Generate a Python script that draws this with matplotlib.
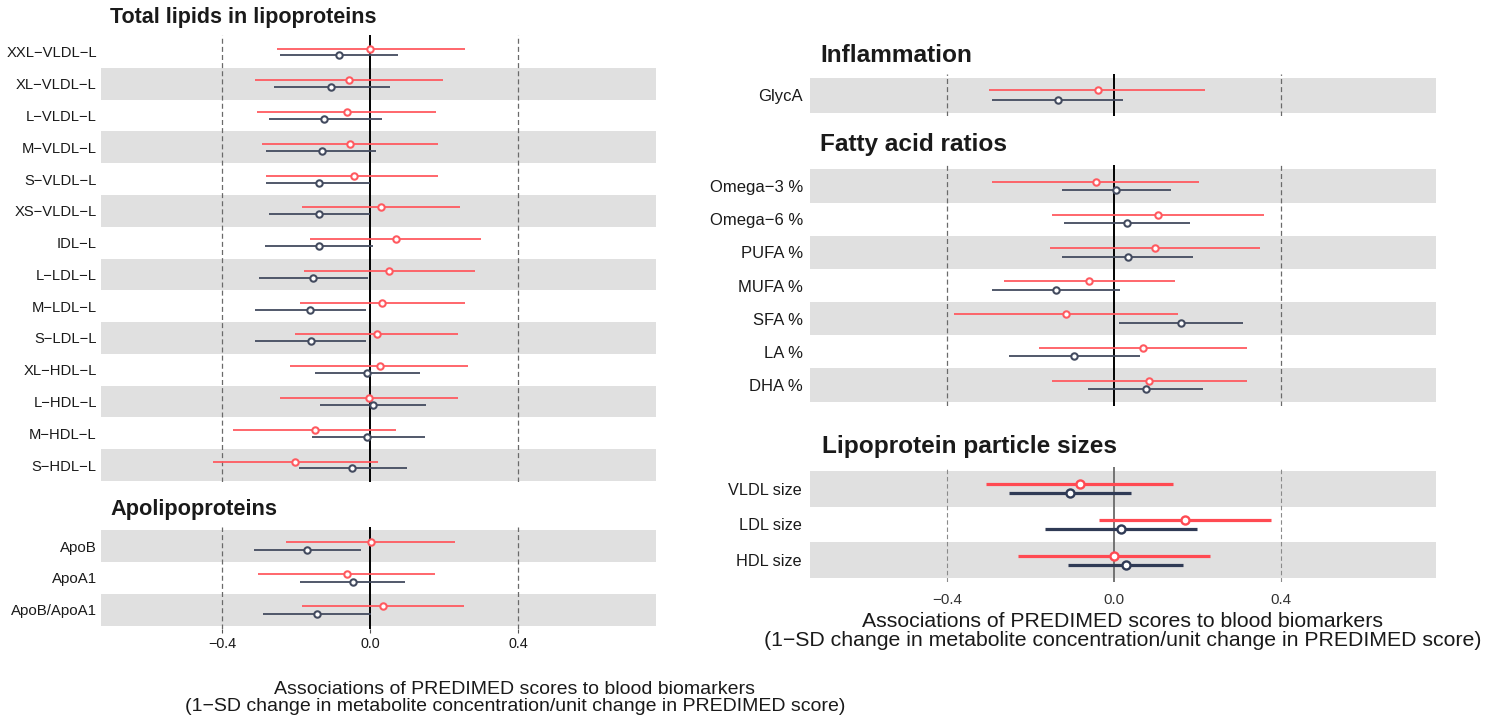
import matplotlib
matplotlib.use('Agg')
import matplotlib.pyplot as plt

plt.rcParams['font.family'] = ['Liberation Sans', 'DejaVu Sans']

# ---- data: estimate, lower CI, upper CI (red = score A, navy = score B) ----
lip_labels = ['XXL−VLDL−L', 'XL−VLDL−L', 'L−VLDL−L', 'M−VLDL−L', 'S−VLDL−L', 'XS−VLDL−L', 'IDL−L',
              'L−LDL−L', 'M−LDL−L', 'S−LDL−L', 'XL−HDL−L', 'L−HDL−L', 'M−HDL−L', 'S−HDL−L']
lip_red_est = [0.000, -0.058, -0.064, -0.056, -0.045, 0.030, 0.069, 0.050, 0.032, 0.018, 0.025, -0.003, -0.150, -0.203]
lip_red_lo = [-0.253, -0.312, -0.307, -0.293, -0.281, -0.185, -0.163, -0.180, -0.190, -0.203, -0.217, -0.244, -0.370, -0.425]
lip_red_hi = [0.256, 0.195, 0.178, 0.184, 0.184, 0.242, 0.300, 0.283, 0.256, 0.236, 0.264, 0.236, 0.069, 0.020]
lip_blue_est = [-0.086, -0.106, -0.124, -0.132, -0.140, -0.138, -0.138, -0.156, -0.164, -0.161, -0.008, 0.008, -0.008, -0.050]
lip_blue_lo = [-0.244, -0.261, -0.275, -0.281, -0.281, -0.275, -0.284, -0.302, -0.311, -0.311, -0.150, -0.136, -0.159, -0.194]
lip_blue_hi = [0.074, 0.053, 0.031, 0.016, 0.000, 0.000, 0.007, -0.007, -0.011, -0.011, 0.133, 0.151, 0.147, 0.098]

apo_labels = ['ApoB', 'ApoA1', 'ApoB/ApoA1']
apo_red_est = [0.003, -0.064, 0.034]
apo_red_lo = [-0.227, -0.303, -0.186]
apo_red_hi = [0.228, 0.174, 0.252]
apo_blue_est = [-0.171, -0.048, -0.143]
apo_blue_lo = [-0.315, -0.191, -0.289]
apo_blue_hi = [-0.025, 0.093, 0.003]

inf_labels = ['GlycA']
inf_red_est = [-0.039]
inf_red_lo = [-0.299]
inf_red_hi = [0.218]
inf_blue_est = [-0.134]
inf_blue_lo = [-0.293]
inf_blue_hi = [0.022]

fa_labels = ['Omega−3 %', 'Omega−6 %', 'PUFA %', 'MUFA %', 'SFA %', 'LA %', 'DHA %']
fa_red_est = [-0.043, 0.105, 0.099, -0.060, -0.114, 0.071, 0.084]
fa_red_lo = [-0.293, -0.147, -0.152, -0.262, -0.384, -0.179, -0.147]
fa_red_hi = [0.205, 0.359, 0.350, 0.146, 0.154, 0.319, 0.319]
fa_blue_est = [0.006, 0.032, 0.034, -0.138, 0.161, -0.095, 0.077]
fa_blue_lo = [-0.124, -0.120, -0.124, -0.293, 0.012, -0.252, -0.061]
fa_blue_hi = [0.136, 0.182, 0.190, 0.014, 0.310, 0.063, 0.214]

size_labels = ['VLDL size', 'LDL size', 'HDL size']
size_red_est = [-0.081, 0.170, 0.000]
size_red_lo = [-0.307, -0.036, -0.229]
size_red_hi = [0.143, 0.376, 0.230]
size_blue_est = [-0.105, 0.017, 0.029]
size_blue_lo = [-0.251, -0.164, -0.109]
size_blue_hi = [0.042, 0.199, 0.165]

xticks = [-0.4, 0.0, 0.4]
xlim = (-0.728, 0.772)
xlabel = 'Associations of PREDIMED scores to blood biomarkers\n(1−SD change in metabolite concentration/unit change in PREDIMED score)'

RED = '#ff5a60'
NAVY = '#434b5f'
RED2 = '#ff4a52'
NAVY2 = '#2f3a55'
BAND = '#e0e0e0'

W, H = 1502, 722
fig = plt.figure(figsize=(W / 100, H / 100), dpi=100)


def px_axes(left, top, right, bottom):
    return fig.add_axes([left / W, 1 - bottom / H, (right - left) / W, (bottom - top) / H])


def forest(ax, labels, red, blue, off, lw, ms, mew, red_c, navy_c, label_fs, pad,
           zero_c='black', zero_lw=1.4, dash_c='#6a6a6a', dash_lw=0.9):
    n = len(labels)
    ax.set_xlim(*xlim)
    ax.set_ylim(n - 1 + 0.6, -0.6)
    # shading counted from the bottom row
    for i in range(n):
        if (n - 1 - i) % 2 == 0:
            ax.axhspan(i - 0.5, i + 0.5, color=BAND, lw=0, zorder=0)
    for xv in (-0.4, 0.4):
        ax.axvline(xv, color=dash_c, lw=dash_lw, ls=(0, (4, 2.5)), zorder=1)
    ax.axvline(0, color=zero_c, lw=zero_lw, zorder=1)
    for (est, lo, hi), c, d in ((red, red_c, -off), (blue, navy_c, off)):
        ys = [i + d for i in range(n)]
        ax.hlines(ys, lo, hi, color=c, lw=lw, zorder=2)
        ax.plot(est, ys, 'o', ms=ms, mfc='white', mec=c, mew=mew, zorder=3)
    ax.set_yticks(range(n))
    ax.set_yticklabels(labels, fontsize=label_fs, color='#1a1a1a')
    ax.tick_params(axis='y', length=0, pad=pad)
    for s in ax.spines.values():
        s.set_visible(False)
    ax.set_xticks([])


# left: total lipids
ax1 = px_axes(101, 35, 656, 482)
forest(ax1, lip_labels, (lip_red_est, lip_red_lo, lip_red_hi), (lip_blue_est, lip_blue_lo, lip_blue_hi),
       0.11, 1.3, 4.6, 1.5, RED, NAVY, 10.6, 3)
ax1.set_ylim(13.535, -0.535)
fig.text(110 / W, 1 - 17 / H, 'Total lipids in lipoproteins', fontsize=15.5, fontweight='bold',
         va='center', ha='left', color='#1a1a1a')

# left: apolipoproteins
ax2 = px_axes(101, 527, 656, 629)
forest(ax2, apo_labels, (apo_red_est, apo_red_lo, apo_red_hi), (apo_blue_est, apo_blue_lo, apo_blue_hi),
       0.12, 1.3, 4.6, 1.5, RED, NAVY, 10.8, 3)
ax2.set_xticks(xticks)
ax2.set_xticklabels(['−0.4', '0.0', '0.4'], fontsize=10.4, color='#1a1a1a')
ax2.tick_params(axis='x', length=3, color='#555555', pad=3)
fig.text(110 / W, 1 - 510 / H, 'Apolipoproteins', fontsize=15.7, fontweight='bold',
         va='center', ha='left', color='#1a1a1a')
fig.text(515 / W, 1 - 698 / H, xlabel, fontsize=14, ha='center', va='center',
         linespacing=1.05, color='#1a1a1a')

# right: inflammation
ax3 = px_axes(810, 74, 1436, 116)
forest(ax3, inf_labels, (inf_red_est, inf_red_lo, inf_red_hi), (inf_blue_est, inf_blue_lo, inf_blue_hi),
       0.13, 1.3, 4.6, 1.5, RED, NAVY, 12, 5)
fig.text(820 / W, 1 - 55 / H, 'Inflammation', fontsize=17.6, fontweight='bold',
         va='center', ha='left', color='#1a1a1a')

# right: fatty acid ratios
ax4 = px_axes(810, 165, 1436, 406)
forest(ax4, fa_labels, (fa_red_est, fa_red_lo, fa_red_hi), (fa_blue_est, fa_blue_lo, fa_blue_hi),
       0.13, 1.3, 4.6, 1.5, RED, NAVY, 12, 5)
ax4.set_ylim(6.63, -0.63)
fig.text(820 / W, 1 - 145 / H, 'Fatty acid ratios', fontsize=17.6, fontweight='bold',
         va='center', ha='left', color='#1a1a1a')

# right: particle sizes
ax5 = px_axes(810, 467, 1436, 582)
forest(ax5, size_labels, (size_red_est, size_red_lo, size_red_hi), (size_blue_est, size_blue_lo, size_blue_hi),
       0.135, 2.3, 5.8, 1.7, RED2, NAVY2, 11.7, 6,
       zero_c='#6a6a6a', zero_lw=1.3, dash_c='#8a8a8a', dash_lw=0.8)
ax5.set_xticks(xticks)
ax5.set_xticklabels(['−0.4', '0.0', '0.4'], fontsize=10.9, color='#333333')
ax5.tick_params(axis='x', length=0, pad=8)
fig.text(822 / W, 1 - 447 / H, 'Lipoprotein particle sizes', fontsize=17.6, fontweight='bold',
         va='center', ha='left', color='#1a1a1a')
fig.text(1123 / W, 1 - 631 / H, xlabel, fontsize=15.3, ha='center', va='center',
         linespacing=1.05, color='#1a1a1a')

fig.savefig('out.png', dpi=100, facecolor='white')
